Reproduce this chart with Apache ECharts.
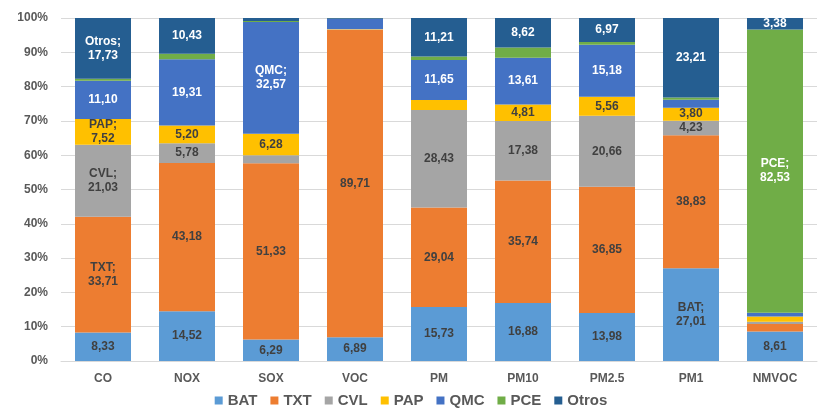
<!DOCTYPE html>
<html><head><meta charset="utf-8">
<script src="https://cdn.jsdelivr.net/npm/echarts@6/dist/echarts.min.js"></script>
<style>html,body{margin:0;padding:0;background:#fff}#c{width:822px;height:416px}</style>
</head><body><div id="c"></div>
<script>
const categories = ['CO','NOX','SOX','VOC','PM','PM10','PM2.5','PM1','NMVOC'];
const seriesNames = ['BAT','TXT','CVL','PAP','QMC','PCE','Otros'];
const BAT   = [8.33, 14.52, 6.29, 6.89, 15.73, 16.88, 13.98, 27.01, 8.61];
const TXT   = [33.71, 43.18, 51.33, 89.71, 29.04, 35.74, 36.85, 38.83, 2.2];
const CVL   = [21.03, 5.78, 2.38, 0.1, 28.43, 17.38, 20.66, 4.23, 0.6];
const PAP   = [7.52, 5.20, 6.28, 0.1, 2.9, 4.81, 5.56, 3.80, 1.6];
const QMC   = [11.10, 19.31, 32.57, 2.9, 11.65, 13.61, 15.18, 2.3, 1.08];
const PCE   = [0.58, 1.58, 0.3, 0.1, 1.04, 2.96, 0.8, 0.62, 82.53];
const Otros = [17.73, 10.43, 0.85, 0.2, 11.21, 8.62, 6.97, 23.21, 3.38];
const yTicks = ['0%','10%','20%','30%','40%','50%','60%','70%','80%','90%','100%'];
// labels that include the series name: [seriesName, categoryIndex]
const namedLabels = [['Otros',0],['TXT',0],['CVL',0],['PAP',0],['QMC',2],['BAT',7],['PCE',8]];

const values = {BAT, TXT, CVL, PAP, QMC, PCE, Otros};
const colors = {BAT:'#5B9BD5', TXT:'#ED7D31', CVL:'#A5A5A5', PAP:'#FFC000', QMC:'#4472C4', PCE:'#70AD47', Otros:'#255E91'};
const labelColors = {BAT:'#404040', TXT:'#404040', CVL:'#404040', PAP:'#404040', QMC:'#ffffff', PCE:'#ffffff', Otros:'#ffffff'};

function fmt(v){ return v.toFixed(2).replace('.', ','); }

const chart = echarts.init(document.getElementById('c'), null, {renderer:'canvas'});
chart.setOption({
  animation:false,
  grid:{left:61, right:5, top:18, bottom:55},
  legend:{
    data: seriesNames, bottom:3, left:'center', itemWidth:8, itemHeight:8, itemGap:13,
    icon:'rect',
    textStyle:{fontFamily:'Liberation Sans, Arial, sans-serif', fontSize:15, color:'#595959', fontWeight:'bold'}
  },
  xAxis:{
    type:'category', data:categories,
    axisTick:{show:false},
    axisLine:{lineStyle:{color:'#D9D9D9'}},
    axisLabel:{color:'#595959', fontWeight:'bold', fontSize:12, margin:12, fontFamily:'Liberation Sans, Arial, sans-serif'}
  },
  yAxis:{
    type:'value', min:0, max:100, interval:10,
    axisLine:{show:false}, axisTick:{show:false},
    splitLine:{lineStyle:{color:'#D9D9D9'}},
    axisLabel:{color:'#595959', fontWeight:'bold', fontSize:12, margin:13, fontFamily:'Liberation Sans, Arial, sans-serif',
      formatter:(v)=>yTicks[Math.round(v/10)]}
  },
  series: seriesNames.map(name => ({
    name, type:'bar', stack:'total', barWidth:56,
    itemStyle:{color:colors[name]},
    data: values[name].map((v,i) => {
      const named = namedLabels.some(n => n[0]===name && n[1]===i);
      return {value:v, label:{show: v >= 3.3, formatter: named ? name + ';\n' + fmt(v) : fmt(v)}};
    }),
    label:{
      position:'inside', color:labelColors[name], fontWeight:'bold', fontSize:12, lineHeight:14,
      fontFamily:'Liberation Sans, Arial, sans-serif'
    }
  }))
});
</script></body></html>
